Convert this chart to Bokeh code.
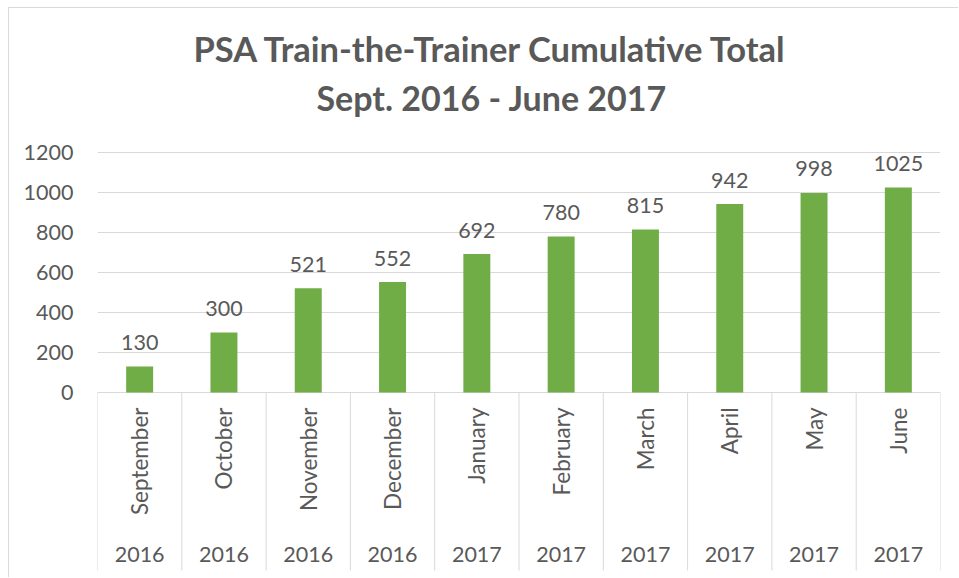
import math
from bokeh.plotting import figure
from bokeh.models import FixedTicker, Range1d, FactorRange, Title, ColumnDataSource
from bokeh.core.properties import value
from bokeh.embed import file_html
from bokeh.resources import INLINE

months = ["September", "October", "November", "December", "January",
          "February", "March", "April", "May", "June"]
years = ["2016", "2016", "2016", "2016", "2017", "2017", "2017", "2017", "2017", "2017"]
totals = [130, 300, 521, 552, 692, 780, 815, 942, 998, 1025]
y_ticks = [0, 200, 400, 600, 800, 1000, 1200]
title_line1 = "PSA Train-the-Trainer Cumulative Total"
title_line2 = "Sept. 2016 - June 2017"

FONT = "Lato"
TEXT = "#595959"
GRID = "#D9D9D9"
BAR = "#70AD47"
FS = "21.5px"

src = ColumnDataSource(dict(month=months, year=years, total=totals,
                            label=[str(v) for v in totals]))

p = figure(width=950, height=570,
           x_range=FactorRange(*months), y_range=Range1d(-930, 1345),
           output_backend="svg", toolbar_location=None,
           x_axis_location=None,
           min_border_left=88, min_border_right=19,
           min_border_top=115, min_border_bottom=0)
p.styles = {"margin-left": "8px", "margin-top": "7px",
            "border-left": "1px solid #D9D9D9", "border-top": "1px solid #D9D9D9"}
p.outline_line_color = None
p.background_fill_color = "white"
p.border_fill_color = "white"

for g in p.xgrid:
    g.visible = False

tick = FixedTicker(ticks=y_ticks)
p.yaxis.ticker = tick
p.ygrid.ticker = tick
p.ygrid.grid_line_color = GRID
p.ygrid.grid_line_width = 1
p.yaxis.axis_line_color = None
p.yaxis.major_tick_line_color = None
p.yaxis.minor_tick_line_color = None
p.yaxis.major_label_text_font = FONT
p.yaxis.major_label_text_font_size = FS
p.yaxis.major_label_text_color = TEXT
p.yaxis.major_label_standoff = 18

p.vbar(x="month", top="total", width=0.32, source=src,
       fill_color=BAR, line_color=None)

p.text(x="month", y="total", text="label", source=src,
       text_align="center", text_baseline="middle", y_offset=-24,
       text_font=value(FONT), text_font_size=FS, text_color=TEXT)

# category separators
bounds = list(range(len(months) + 1))
p.segment(x0=bounds, y0=0, x1=bounds, y1=-890, line_color=GRID, line_width=1)

# month labels (rotated)
p.text(x="month", y=0, text="month", source=src, angle=math.pi / 2,
       text_align="right", text_baseline="middle", y_offset=15,
       text_font=value(FONT), text_font_size="22.5px", text_color=TEXT)
# year labels
p.text(x="month", y=0, text="year", source=src,
       text_align="center", text_baseline="middle", y_offset=162,
       text_font=value(FONT), text_font_size=FS, text_color=TEXT)

t2 = Title(text=title_line2, align="left", offset=219, text_font=FONT,
           text_font_size="34px", text_font_style="bold", text_color=TEXT,
           standoff=12)
t1 = Title(text=title_line1, align="left", offset=96, text_font=FONT,
           text_font_size="34.5px", text_font_style="bold", text_color=TEXT,
           standoff=0)
p.add_layout(t2, "above")
p.add_layout(t1, "above")

open("out.html", "w").write(file_html(p, INLINE))
